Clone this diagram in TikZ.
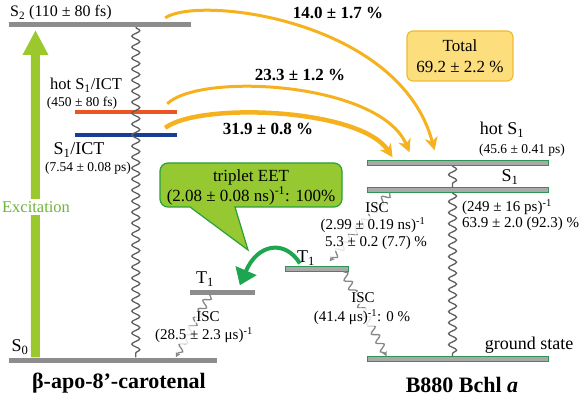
\documentclass[tikz,border=0pt]{standalone}
\usepackage{fontspec}
\setmainfont{Liberation Serif}
\usetikzlibrary{arrows.meta, decorations.pathmorphing, positioning}
\definecolor{lvgray}{RGB}{140,140,140}
\definecolor{lvgreen}{RGB}{45,150,85}
\definecolor{wavgray}{RGB}{95,95,95}
\definecolor{exgreen}{RGB}{155,200,45}
\definecolor{extext}{RGB}{110,180,60}
\definecolor{hotred}{RGB}{235,85,35}
\definecolor{ictblue}{RGB}{25,60,150}
\definecolor{eetorange}{RGB}{245,178,30}
\definecolor{calfill}{RGB}{150,200,50}
\definecolor{caldraw}{RGB}{40,160,60}
\definecolor{tarrow}{RGB}{30,165,80}
\definecolor{totfill}{RGB}{252,222,125}
\definecolor{totdraw}{RGB}{242,185,50}

\tikzset{
  lvl/.style={rectangle, inner sep=0pt, minimum height=5pt, fill=lvgray},
  lvlg/.style={lvl, fill=lvgray!75, minimum height=4.5pt, draw=lvgreen, line width=0.9pt},
  wavy/.style={draw=wavgray, line width=1.3pt, decorate,
    decoration={snake, segment length=11pt, amplitude=4pt}},
  isc/.style={wavy, draw=wavgray!75, -{Stealth[length=5pt,width=5pt]},
    decoration={snake, segment length=10pt, amplitude=3.5pt, post length=3pt}},
  big/.style={font=\fontsize{18}{20}\selectfont, inner sep=1pt},
  mid/.style={font=\fontsize{15}{17}\selectfont, inner sep=1pt},
  tiny/.style={font=\fontsize{13.5}{15}\selectfont, inner sep=1pt},
  pct/.style={font=\bfseries\fontsize{17}{19}\selectfont, inner sep=1pt},
  title/.style={font=\bfseries\fontsize{22}{24}\selectfont, inner sep=1pt},
  veil/.style={fill=white, fill opacity=.8, text opacity=1},
  eet/.style={draw=eetorange, line width=3pt,
    -{Stealth[length=13pt,width=13pt,inset=4pt]}},
}

\begin{document}
\begin{tikzpicture}[x=1pt,y=-1pt]
\useasboundingbox (0,0) rectangle (586,398);

% levels, carotenal
\node[lvl, minimum width=182pt] (S2) at (100,24.5) {};
\node[lvl, minimum width=208pt] (S0) at (113,360) {};
\node[lvl, fill=hotred, minimum height=4pt, minimum width=102pt] (hict) at (126,112) {};
\node[lvl, fill=ictblue, minimum height=4pt, minimum width=102pt] (ict) at (126,135) {};
\node[lvl, minimum width=65pt] (T1l) at (222.5,292) {};

% levels, B880
\node[lvlg, minimum width=181pt] (hS1) at (457.5,163) {};
\node[lvlg, minimum width=181pt] (S1) at (457.5,190) {};
\node[lvlg, minimum width=181pt] (gs) at (457.5,359) {};
\node[lvlg, minimum width=63pt] (T1r) at (316.5,269) {};

% relaxation
\draw[wavy] ([xshift=127pt]S2.south west) -- ([xshift=127pt]S0.north west);
\draw[wavy] ([xshift=86pt]hS1.south west) -- ([xshift=86pt]S1.north west);
\draw[wavy] ([xshift=86pt]S1.south west) -- ([xshift=86pt]gs.north west);
\draw[isc] ([xshift=20pt]T1l.south west) -- ([xshift=167pt]S0.north west);
\draw[isc] ([xshift=23pt]S1.south west) -- ([xshift=45pt,yshift=5pt]T1r.north west);
\draw[isc] ([xshift=-5pt]T1r.south east) -- ([xshift=20pt]gs.north west);

% excitation
\coordinate (extop) at (35.5,30);
\draw[exgreen, line width=9pt, -{Triangle[length=25pt,width=24pt]}]
  ([xshift=26.5pt]S0.north west) -- (extop);
\node[font=\fontsize{16.5}{18}\selectfont, text=extext, fill=white, inner sep=2pt]
  (exc) at (36,207) {Excitation};

% energy transfer to B880
\draw[eet] ([xshift=-26pt,yshift=4pt]S2.north east)
  .. controls (200,-5) and (400,20) .. ([xshift=68pt,yshift=10pt]hS1.north west);
\draw[eet] ([xshift=-10pt,yshift=6pt]hict.north east)
  .. controls (200,72) and (380,82) .. ([xshift=43pt,yshift=8pt]hS1.north west);
\draw[eet, line width=4.5pt] ([xshift=-12pt,yshift=5pt]ict.north east)
  .. controls (200,102) and (360,108) .. ([xshift=26pt,yshift=3pt]hS1.north west);
\node[pct] (p1) at (338,13) {14.0 ± 1.7 \%};
\node[pct] (p2) at (300,75) {23.3 ± 1.2 \%};
\node[pct] (p3) at (268,129) {31.9 ± 0.8 \%};
\node[big, rectangle, rounded corners=6pt, fill=totfill, draw=totdraw, line width=1.2pt,
  minimum width=106pt, minimum height=50pt, align=center, font=\fontsize{17}{21}\selectfont]
  (tot) at (460,56) {Total\\69.2 ± 2.2 \%};

% labels, carotenal
\node[big, anchor=base west, font=\fontsize{16}{18}\selectfont] (s2lab) at (9,17)
  {S\textsubscript{2} (110 ± 80 fs)};
\node[big, font=\fontsize{16.5}{18}\selectfont] (hlab) at (86,85) {hot S\textsubscript{1}/ICT};
\node[tiny] (hlt) at (82,103) {(450 ± 80 fs)};
\node[big] (ilab) at (79,150) {S\textsubscript{1}/ICT};
\node[tiny] (ilt) at (88,168) {(7.54 ± 0.08 ps)};
\node[big] (s0lab) at (20,347) {S\textsubscript{0}};
\node[big] (t1llab) at (205,279) {T\textsubscript{1}};
\node[mid, veil] (iscl) at (208,317) {ISC};
\node[mid, veil] (iscln) at (204,335) {(28.5 ± 2.3 μs)\textsuperscript{-1}};
\node[title] (car) at (119,383) {β-apo-8'-carotenal};

% labels, B880
\node[big] (hs1lab) at (502,130) {hot S\textsubscript{1}};
\node[tiny] (hs1t) at (522,150) {(45.6 ± 0.41 ps)};
\node[big] (s1lab) at (510,177) {S\textsubscript{1}};
\node[mid, anchor=west] (s1t) at (461,207) {(249 ± 16 ps)\textsuperscript{-1}};
\node[mid, anchor=west] (s1y) at (461,224) {63.9 ± 2.0 (92.3) \%};
\node[big] (gslab) at (529,345) {ground state};
\node[title] (bchl) at (462,385) {B880 Bchl \textit{a}};
\node[big] (t1rlab) at (306,258) {T\textsubscript{1}};
\node[mid, veil] (iscu) at (377,208) {ISC};
\node[mid, veil] (iscut) at (373,225) {(2.99 ± 0.19 ns)\textsuperscript{-1}};
\node[mid, veil] (iscuy) at (376,243) {5.3 ± 0.2 (7.7) \%};
\node[mid, veil] (iscd) at (363,298) {ISC};
\node[mid, veil] (iscdt) at (362,317) {(41.4 μs)\textsuperscript{-1}: 0 \%};

% triplet EET callout
\draw[fill=calfill, draw=caldraw, line width=1.2pt, rounded corners=8pt]
  (160,163) -- (342,163) -- (342,207) [sharp corners] -- (235,207) -- (248,250)
  -- (190,207) [rounded corners=8pt] -- (160,207) -- cycle;
\node[big, align=center, font=\fontsize{17}{20}\selectfont] (eetlab) at (251,187)
  {triplet EET\\(2.08 ± 0.08 ns)\textsuperscript{-1}: 100\%};
\draw[tarrow, line width=4pt, -{Triangle[length=16pt,width=22pt]}]
  ([xshift=4pt,yshift=3pt]t1rlab.south west) .. controls +(-15,-24) and +(18,-42)
  .. ([xshift=50pt,yshift=4pt]T1l.north west);

\end{tikzpicture}
\end{document}
